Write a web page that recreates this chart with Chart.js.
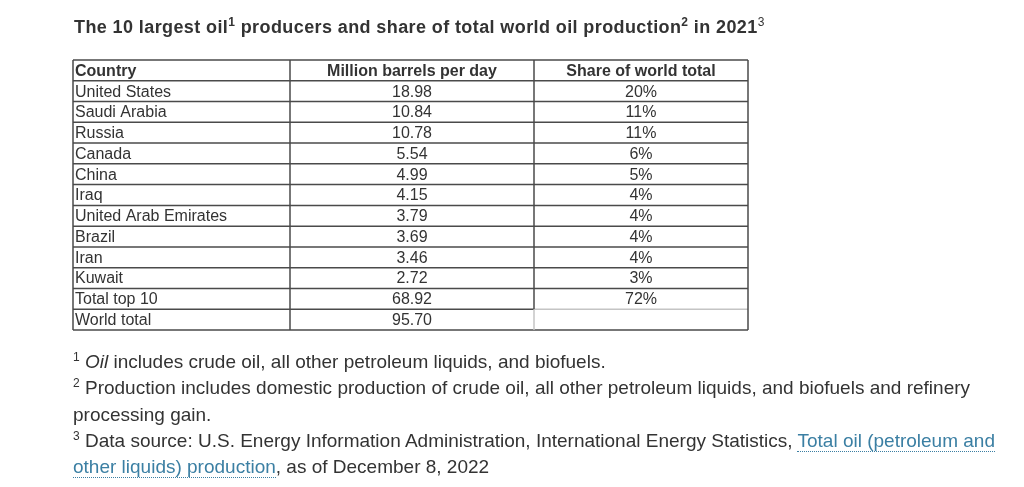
<!DOCTYPE html>
<html>
<head>
<meta charset="utf-8">
<script src="https://cdn.jsdelivr.net/npm/chart.js@4"></script>
<style>
  html, body { margin: 0; padding: 0; background: #fff; }
  body { width: 1024px; height: 487px; position: relative; overflow: hidden;
         font-family: "Liberation Sans", Arial, sans-serif; color: #333; }
  #wrap { position: absolute; left: 0; top: 0; width: 1024px; height: 487px; }
  #title { position: absolute; left: 74px; top: 15px; font-size: 18px; font-weight: bold;
           letter-spacing: 0.4px; line-height: 24px; white-space: nowrap; color: #333; }
  #title sup { font-size: 12px; line-height: 0; }
  #title sup.lt { font-weight: normal; }
  #notes { position: absolute; left: 73px; top: 349px; font-size: 19px; line-height: 26.3px;
           color: #333; white-space: nowrap; }
  #notes sup { font-size: 12px; line-height: 0; }
  #notes a { color: #3b7fa3; text-decoration: none; border-bottom: 1px dotted #3b7fa3; }
</style>
</head>
<body>
<div id="wrap"><canvas id="tbl" width="1024" height="487"></canvas></div>
<div id="title">The 10 largest oil<sup>1</sup> producers and share of total world oil production<sup>2</sup> in 2021<sup class="lt">3</sup></div>
<div id="notes">
  <sup>1</sup> <i>Oil</i> includes crude oil, all other petroleum liquids, and biofuels.<br>
  <sup>2</sup> Production includes domestic production of crude oil, all other petroleum liquids, and biofuels and refinery<br>
  processing gain.<br>
  <sup>3</sup> Data source: U.S. Energy Information Administration, International Energy Statistics, <a>Total oil (petroleum and</a><br>
  <a>other liquids) production</a>, as of December 8, 2022
</div>
<script>
// table content
const headers = ["Country", "Million barrels per day", "Share of world total"];
const countries = ["United States", "Saudi Arabia", "Russia", "Canada", "China", "Iraq",
  "United Arab Emirates", "Brazil", "Iran", "Kuwait", "Total top 10", "World total"];
const barrels = [18.98, 10.84, 10.78, 5.54, 4.99, 4.15, 3.79, 3.69, 3.46, 2.72, 68.92, 95.70];
const shares = [20, 11, 11, 6, 5, 4, 4, 4, 4, 3, 72, null];

// layout: column edges in table units (x scale), one unit per pixel of table width
const colEdges = [0, 217, 461, 675];
const lineDark = "#4a4a4a", lineLight = "#c4c4c4";

const cellPlugin = {
  id: "cells",
  afterDraw(chart) {
    const { ctx, scales: { x, y } } = chart;
    const nRows = countries.length + 1;
    const X = v => x.getPixelForValue(v);
    const Y = v => y.getPixelForValue(v);
    ctx.save();

    // text
    ctx.fillStyle = "#333";
    ctx.textBaseline = "middle";
    const rowText = r => r === 0 ? headers :
      [countries[r - 1], barrels[r - 1].toFixed(2), shares[r - 1] == null ? "" : shares[r - 1] + "%"];
    for (let r = 0; r < nRows; r++) {
      const cy = Y(r + 0.5) + 1;
      const cells = rowText(r);
      ctx.font = (r === 0 ? "bold " : "") + "16px 'Liberation Sans', Arial, sans-serif";
      ctx.textAlign = "left";
      ctx.fillText(cells[0], X(colEdges[0]) + 2, cy);
      ctx.textAlign = "center";
      ctx.fillText(cells[1], (X(colEdges[1]) + X(colEdges[2])) / 2, cy);
      ctx.fillText(cells[2], (X(colEdges[2]) + X(colEdges[3])) / 2, cy);
    }

    // grid
    ctx.lineWidth = 1.5;
    const seg = (x1, y1, x2, y2, c) => {
      ctx.strokeStyle = c; ctx.beginPath(); ctx.moveTo(x1, y1); ctx.lineTo(x2, y2); ctx.stroke();
    };
    for (let r = 0; r <= nRows; r++) {
      const py = Y(r);
      if (r === nRows - 1) {
        seg(X(colEdges[0]), py, X(colEdges[2]), py, lineDark);
        seg(X(colEdges[2]), py, X(colEdges[3]), py, lineLight);
      } else {
        seg(X(colEdges[0]), py, X(colEdges[3]), py, lineDark);
      }
    }
    colEdges.forEach((c, i) => {
      if (i === 2) {
        seg(X(c), Y(0), X(c), Y(nRows - 1), lineDark);
        seg(X(c), Y(nRows - 1), X(c), Y(nRows), lineLight);
      } else {
        seg(X(c), Y(0), X(c), Y(nRows), lineDark);
      }
    });
    ctx.restore();
  }
};

new Chart(document.getElementById("tbl"), {
  type: "scatter",
  data: { datasets: [] },
  options: {
    responsive: false,
    animation: false,
    devicePixelRatio: 1,
    layout: { padding: { left: 73, top: 60, right: 276, bottom: 157 } },
    plugins: { legend: { display: false }, tooltip: { enabled: false } },
    scales: {
      x: { type: "linear", display: false, min: colEdges[0], max: colEdges[colEdges.length - 1] },
      y: { type: "linear", display: false, reverse: true, min: 0, max: countries.length + 1 }
    }
  },
  plugins: [cellPlugin]
});
</script>
</body>
</html>
